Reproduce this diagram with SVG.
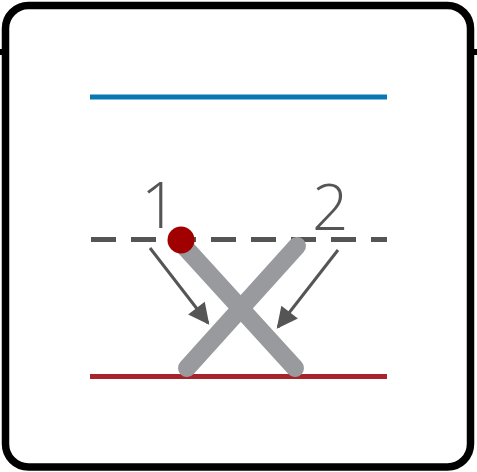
<svg xmlns="http://www.w3.org/2000/svg" width="477" height="472" viewBox="0 0 477 472">
<style>
.frame{fill:#fff;stroke:#000;stroke-width:7.5}
.bar{fill:none;stroke:#999a9d;stroke-width:18;stroke-linecap:round}
.arrow{fill:none;stroke:#555;stroke-width:3}
.lbl{font-family:"Open Sans","Liberation Sans",sans-serif;font-size:64px;font-weight:300;fill:#555}
</style>
<defs>
<marker id="ah" viewBox="0 0 10 10" refX="9" refY="5" markerWidth="8" markerHeight="7" orient="auto" markerUnits="strokeWidth">
<path d="M0,0 L10,5 L0,10 Z" fill="#555"/>
</marker>
</defs>
<rect width="477" height="472" fill="#fff"/>
<g id="frame">
<rect class="frame" x="5.5" y="5.5" width="465" height="461.5" rx="23"/>
<rect x="0" y="49" width="4" height="6" fill="#000"/>
<rect x="473" y="49" width="4" height="6" fill="#000"/>
</g>
<g id="lines">
<line x1="90" y1="97" x2="387" y2="97" stroke="#0a77b5" stroke-width="5"/>
<line x1="91" y1="239.5" x2="387" y2="239.5" stroke="#555" stroke-width="5" stroke-dasharray="25 15"/>
<line x1="90" y1="376.5" x2="387" y2="376.5" stroke="#a8242c" stroke-width="5"/>
</g>
<g id="cross">
<line class="bar" x1="182" y1="244" x2="295" y2="368"/>
<line class="bar" x1="297" y1="246" x2="187" y2="368"/>
<circle cx="181" cy="240" r="13.5" fill="#a00000"/>
</g>
<g id="connectors">
<line class="arrow" x1="150" y1="248" x2="208" y2="323" marker-end="url(#ah)"/>
<line class="arrow" x1="338" y1="250" x2="278" y2="327" marker-end="url(#ah)"/>
</g>
<g id="labels">
<text class="lbl" x="141" y="228">1</text>
<text class="lbl" x="312" y="230">2</text>
</g>
</svg>
